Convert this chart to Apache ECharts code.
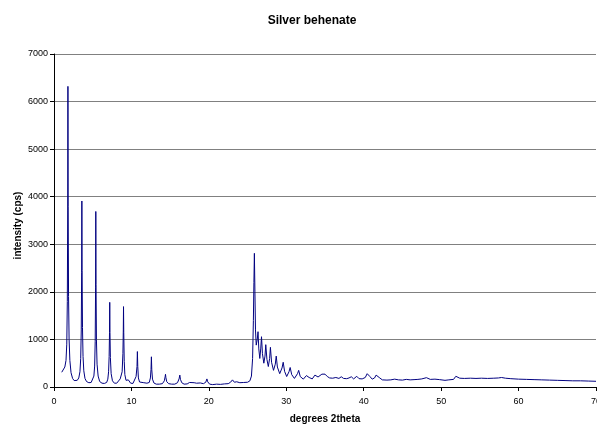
<!DOCTYPE html>
<html>
<head>
<meta charset="utf-8">
<script src="https://cdn.jsdelivr.net/npm/echarts@6/dist/echarts.min.js"></script>
<style>
  html, body { margin: 0; padding: 0; background: #fff; }
  #chart { width: 597px; height: 426px; }
</style>
</head>
<body>
<div id="chart"></div>
<script>
// 低角度区 (1 - 15 deg): [2theta, cps]
const scanLow = [
  [1.0, 310], [1.2, 340], [1.4, 420], [1.55, 560], [1.65, 900], [1.72, 1800], [1.77, 3700], [1.8, 6320],
  [1.83, 3800], [1.88, 1900], [1.95, 1000], [2.05, 560], [2.2, 300], [2.4, 180], [2.6, 135], [2.8, 125],
  [3.0, 140], [3.2, 190], [3.35, 320], [3.45, 600], [3.52, 1200], [3.57, 2400], [3.6, 3910], [3.63, 2450],
  [3.68, 1250], [3.75, 640], [3.85, 340], [4.0, 180], [4.2, 115], [4.5, 90], [4.8, 95], [5.0, 130],
  [5.15, 230], [5.25, 440], [5.32, 950], [5.37, 2100], [5.4, 3690], [5.43, 2150], [5.48, 1000], [5.56, 480],
  [5.7, 230], [5.9, 115], [6.2, 80], [6.5, 75], [6.8, 95], [6.95, 165], [7.05, 320], [7.12, 640],
  [7.17, 1150], [7.2, 1780], [7.23, 1150], [7.28, 620], [7.38, 280], [7.55, 130], [7.8, 80], [8.1, 80],
  [8.35, 110], [8.55, 170], [8.7, 210], [8.8, 320], [8.9, 700], [8.95, 1200], [8.98, 1690], [9.01, 1150],
  [9.07, 540], [9.15, 260], [9.3, 140], [9.45, 110], [9.6, 150], [9.7, 110], [9.9, 80], [10.2, 75],
  [10.45, 115], [10.6, 220], [10.72, 430], [10.77, 745], [10.82, 430], [10.9, 190], [11.05, 105], [11.3, 80],
  [11.6, 90], [11.8, 100], [12.0, 80], [12.3, 95], [12.45, 190], [12.53, 370], [12.58, 635], [12.63, 360],
  [12.72, 165], [12.9, 85], [13.2, 60], [13.6, 60], [14.0, 70], [14.25, 130], [14.35, 215], [14.4, 267],
  [14.45, 200], [14.55, 115], [14.8, 70], [15.2, 60]
];
// 中角度区 (15 - 35 deg)
const scanMid = [
  [15.6, 60], [15.95, 90], [16.15, 170], [16.25, 250], [16.33, 160], [16.5, 90], [16.8, 60], [17.2, 65],
  [17.5, 95], [17.7, 80], [18.1, 90], [18.4, 80], [18.9, 85], [19.3, 70], [19.6, 100], [19.75, 170],
  [19.85, 110], [20.1, 60], [20.5, 50], [21.0, 60], [21.5, 55], [22.0, 65], [22.5, 70], [22.8, 100],
  [23.05, 150], [23.3, 100], [23.6, 110], [24.0, 90], [24.5, 95], [25.0, 100], [25.3, 130], [25.5, 230],
  [25.65, 600], [25.75, 1400], [25.82, 2200], [25.88, 2810], [25.95, 2000], [26.02, 1200], [26.12, 880], [26.25, 1000],
  [26.35, 1163], [26.45, 800], [26.58, 600], [26.7, 800], [26.8, 1057], [26.92, 700], [27.1, 500], [27.25, 650],
  [27.35, 890], [27.5, 580], [27.68, 430], [27.85, 600], [27.95, 834], [28.1, 520], [28.35, 350], [28.58, 480],
  [28.7, 650], [28.85, 420], [29.15, 280], [29.45, 400], [29.6, 520], [29.78, 330], [30.05, 220], [30.35, 320],
  [30.5, 410], [30.7, 260], [31.05, 180], [31.45, 280], [31.6, 350], [31.8, 220], [32.2, 165], [32.6, 240],
  [32.75, 280], [32.95, 200], [33.35, 170], [33.7, 250], [33.9, 290], [34.1, 210], [34.35, 190], [34.6, 270],
  [34.8, 305], [35.0, 270]
];
// 高角度区 (35 - 70 deg)
const scanHigh = [
  [35.3, 220], [35.6, 190], [36.0, 185], [36.4, 200], [36.8, 180], [37.1, 215], [37.4, 180], [37.8, 175],
  [38.1, 190], [38.4, 215], [38.7, 170], [39.1, 225], [39.4, 175], [39.8, 170], [40.2, 200], [40.45, 280],
  [40.6, 310], [40.8, 220], [41.1, 165], [41.4, 190], [41.6, 250], [41.8, 270], [42.0, 200], [42.4, 150],
  [43.0, 145], [43.5, 150], [44.0, 165], [44.5, 150], [45.0, 145], [45.5, 160], [46.0, 150], [46.5, 155],
  [47.0, 160], [47.5, 170], [48.1, 196], [48.6, 160], [49.2, 165], [49.8, 155], [50.5, 140], [51.0, 150],
  [51.6, 160], [51.9, 225], [52.1, 240], [52.4, 185], [53.0, 180], [53.8, 185], [54.5, 180], [55.2, 185],
  [56.0, 180], [56.8, 185], [57.4, 190], [57.8, 200], [58.3, 185], [59.0, 175], [60.0, 165], [61.0, 160],
  [62.0, 155], [63.0, 150], [64.0, 145], [65.0, 140], [66.0, 135], [67.0, 130], [68.0, 130], [69.0, 125],
  [70.0, 120]
];

const chart = echarts.init(document.getElementById('chart'));
const font = 'Liberation Sans, Arial, sans-serif';

const option = {
  animation: false,
  title: {
    text: 'Silver behenate',
    left: 307,
    top: 10,
    textAlign: 'center',
    textStyle: { fontFamily: font, fontSize: 12, fontWeight: 'bold', color: '#000' }
  },
  grid: { left: 54, right: 1, top: 54, bottom: 39, outerBoundsMode: 'none', containLabel: false },
  xAxis: {
    type: 'value',
    min: 0,
    max: 70,
    interval: 10,
    name: 'degrees 2theta',
    nameLocation: 'middle',
    nameGap: 27,
    nameMoveOverlap: false,
    nameTextStyle: { fontFamily: font, fontSize: 10, fontWeight: 'bold', color: '#000' },
    axisLine: { lineStyle: { color: '#000', width: 1 } },
    axisTick: { length: 4, lineStyle: { color: '#000' } },
    axisLabel: { fontFamily: font, fontSize: 9, color: '#000', margin: 10, hideOverlap: false },
    splitLine: { show: false }
  },
  yAxis: {
    type: 'value',
    min: 0,
    max: 7000,
    interval: 1000,
    name: 'intensity (cps)',
    nameLocation: 'middle',
    nameGap: 31,
    nameMoveOverlap: false,
    nameTextStyle: { fontFamily: font, fontSize: 10, fontWeight: 'bold', color: '#000', padding: [0, 10, 0, 0] },
    axisLine: { show: true, lineStyle: { color: '#000', width: 1 } },
    axisTick: { show: true, length: 4, lineStyle: { color: '#000' } },
    axisLabel: { fontFamily: font, fontSize: 9, color: '#000', margin: 6, formatter: v => String(v) },
    splitLine: { show: true, lineStyle: { color: '#808080', width: 1 } }
  },
  series: [{
    type: 'line',
    data: scanLow.concat(scanMid, scanHigh),
    showSymbol: false,
    smooth: false,
    lineStyle: { color: '#000080', width: 1 }
  }]
};
chart.setOption(option);
</script>
</body>
</html>
